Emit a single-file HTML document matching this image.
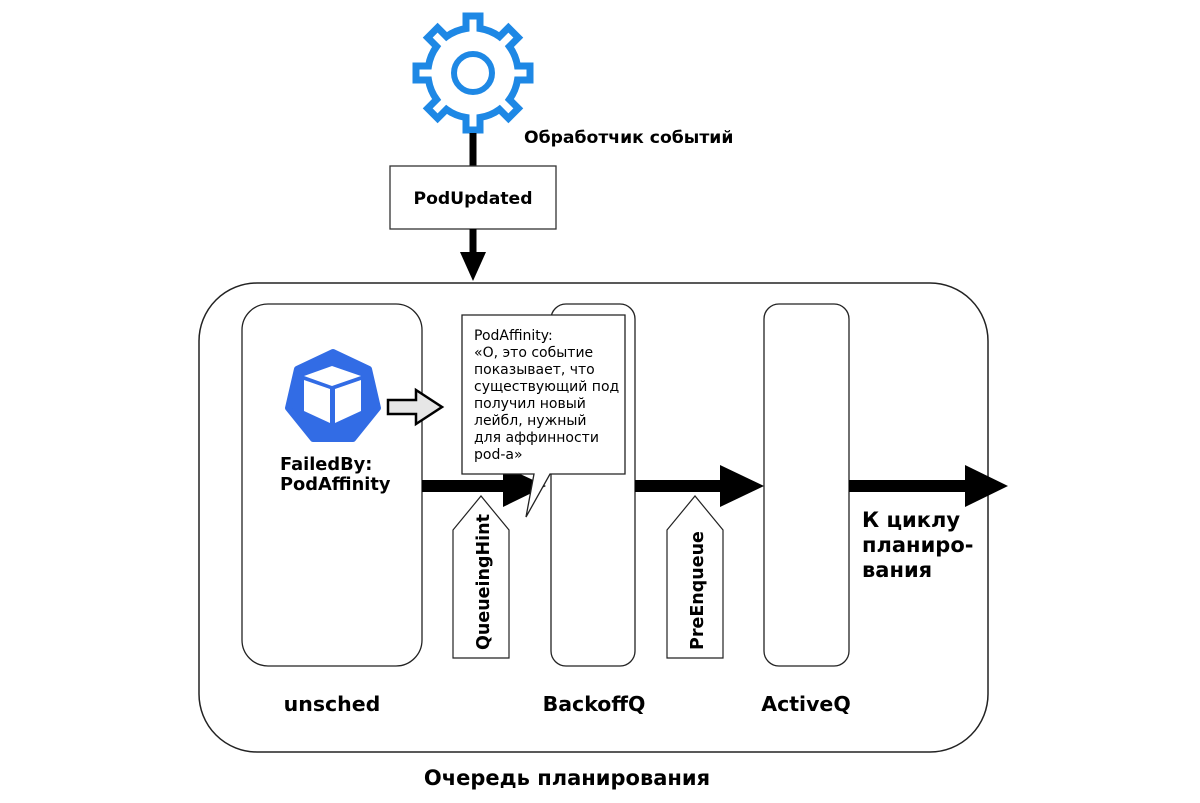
<!DOCTYPE html>
<html><head><meta charset="utf-8"><style>
html,body{margin:0;padding:0;background:#fff;}
svg{display:block;font-family:"DejaVu Sans","Liberation Sans",sans-serif;}
.b{font-weight:bold;}
</style></head><body>
<svg width="1200" height="803" viewBox="0 0 1200 803" xmlns="http://www.w3.org/2000/svg">
<path id="gear" fill="#fff" stroke="#1e88e5" stroke-width="7" stroke-linejoin="miter" d=""/>
<circle cx="473" cy="73" r="19" fill="none" stroke="#1e88e5" stroke-width="6"/>
<text x="524" y="143" class="b" font-size="17.2">Обработчик событий</text>
<line x1="473" y1="133" x2="473" y2="167" stroke="#000" stroke-width="7"/>
<rect x="390" y="166" width="166" height="63" fill="#fff" stroke="#333" stroke-width="1.3"/>
<text x="473" y="204" class="b" font-size="17.2" text-anchor="middle">PodUpdated</text>
<line x1="473" y1="229" x2="473" y2="256" stroke="#000" stroke-width="7"/>
<polygon points="460,252 486,252 473,281" fill="#000"/>
<rect x="199" y="283" width="789" height="469" rx="58" fill="#fff" stroke="#222" stroke-width="1.5"/>
<rect x="242" y="304" width="180" height="362" rx="26" fill="#fff" stroke="#222" stroke-width="1.3"/>
<rect x="551" y="304" width="84" height="362" rx="15" fill="#fff" stroke="#222" stroke-width="1.3"/>
<rect x="764" y="304" width="85" height="362" rx="15" fill="#fff" stroke="#222" stroke-width="1.3"/>
<rect x="422" y="480" width="100" height="12" fill="#000"/>
<polygon points="503,466 546,486 503,507" fill="#000"/>
<rect x="635" y="480" width="95" height="12" fill="#000"/>
<polygon points="720,465 764,486 720,507" fill="#000"/>
<rect x="849" y="480" width="125" height="12" fill="#000"/>
<polygon points="965,465 1008,486 965,507" fill="#000"/>
<path d="M462,315 H625 V474 H550 L526,517 L534,474 H462 Z" fill="#fff" stroke="#222" stroke-width="1.3"/>
<g font-size="14">
<text x="474" y="340">PodAffinity:</text>
<text x="474" y="357">«О, это событие</text>
<text x="474" y="374">показывает, что</text>
<text x="474" y="391">существующий под</text>
<text x="474" y="408">получил новый</text>
<text x="474" y="425">лейбл, нужный</text>
<text x="474" y="442">для аффинности</text>
<text x="474" y="459">pod-a»</text>
</g>
<polygon points="453,530 481,496 509,530 509,658 453,658" fill="#fff" stroke="#222" stroke-width="1.2"/>
<text transform="translate(489,650) rotate(-90)" class="b" font-size="17.5">QueueingHint</text>
<polygon points="667,530 695,496 723,530 723,658 667,658" fill="#fff" stroke="#222" stroke-width="1.2"/>
<text transform="translate(703,650) rotate(-90)" class="b" font-size="17.5">PreEnqueue</text>
<polygon points="333,352 369,369 378,408 353,439 313,439 288,408 297,369" fill="#326ce5" stroke="#326ce5" stroke-width="6" stroke-linejoin="round"/>
<polygon points="304,376 332,366 361,376 332,386" fill="#fff"/>
<polygon points="304,380 330,389 330,423 304,411" fill="#fff"/>
<polygon points="335,389 361,380 361,411 335,423" fill="#fff"/>
<polygon points="388,400 416,400 416,390 442,407 416,424 416,414 388,414" fill="#e6e6e6" stroke="#000" stroke-width="2.5"/>
<text x="280" y="470" class="b" font-size="17.8">FailedBy:</text>
<text x="280" y="490" class="b" font-size="17.8">PodAffinity</text>
<text x="862" y="527" class="b" font-size="21">К циклу</text>
<text x="862" y="552" class="b" font-size="21">планиро-</text>
<text x="862" y="577" class="b" font-size="21">вания</text>
<text x="332" y="711" class="b" font-size="20.5" text-anchor="middle">unsched</text>
<text x="594" y="711" class="b" font-size="20.5" text-anchor="middle">BackoffQ</text>
<text x="806" y="711" class="b" font-size="20.5" text-anchor="middle">ActiveQ</text>
<text x="567" y="785" class="b" font-size="21" text-anchor="middle">Очередь планирования</text>
</svg>
<script>
(function(){
var cx=473,cy=73,ri=45,ro=57,hw=7,d="";
for(var i=0;i<8;i++){
 var a=i*Math.PI/4;
 var ca=Math.cos(a),sa=Math.sin(a);
 var ai=Math.asin(hw/ri);
 var pts=[[ri*Math.cos(a-ai),ri*Math.sin(a-ai)]];
 var px=-sa,py=ca;
 pts.push([ro*ca-hw*px,ro*sa-hw*py]);
 pts.push([ro*ca+hw*px,ro*sa+hw*py]);
 pts.push([ri*Math.cos(a+ai),ri*Math.sin(a+ai)]);
 for(var j=0;j<pts.length;j++){
  d+=(i==0&&j==0?"M":"L")+(cx+pts[j][0]).toFixed(1)+","+(cy+pts[j][1]).toFixed(1)+" ";
 }
 var na=(i+1)*Math.PI/4-ai;
 d+="A"+ri+","+ri+" 0 0 1 "+(cx+ri*Math.cos(na)).toFixed(1)+","+(cy+ri*Math.sin(na)).toFixed(1)+" ";
}
d+="Z";
document.getElementById("gear").setAttribute("d",d);
})();
</script>
</body></html>
